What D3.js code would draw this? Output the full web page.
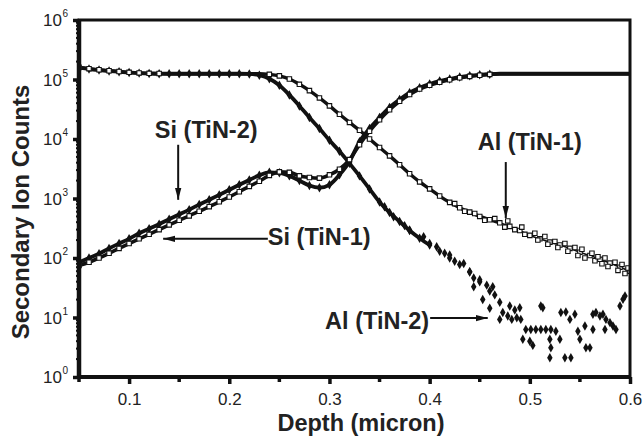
<!DOCTYPE html>
<html><head><meta charset="utf-8">
<script src="https://cdn.jsdelivr.net/npm/d3@7"></script>
<style>body{margin:0;background:#fff}svg{display:block}</style>
</head><body>
<svg id="chart" width="643" height="436"></svg>
<script>
// ---------- data ----------
const depth = [0.05,0.06,0.07,0.08,0.09,0.10,0.11,0.12,0.13,0.14,0.15,0.16,0.17,0.18,0.19,0.20,0.21,0.22,0.23,0.24,0.25,0.26,0.27,0.28,0.29,0.30,0.31,0.32,0.33,0.34,0.35,0.36,0.37,0.38,0.39,0.40,0.41,0.42,0.43,0.44,0.45,0.46,0.47,0.48,0.49,0.50,0.51,0.52,0.53,0.54,0.55,0.56,0.57,0.58,0.59,0.60];

const alTiN1 = [160000,152000,146000,140000,136000,132000,129000,127000,126000,125000,
  125000,125000,125000,125000,125000,125000,125000,125000,
  125000,122000,115000,102000,83000,65000,49000,36000,26000,19000,14000,10000,
  7200,5200,3700,2600,1900,1450,1100,860,700,590,500,440,390,340,290,240,210,185,165,145,125,110,95,82,70,60];

// extra scattered open points in the Al (TiN-1) tail
const alTiN1TailDepth = [0.425,0.435,0.445,0.455,0.465,0.475,0.478,0.485,0.492,0.495,0.505,0.508,0.515,0.518,0.525,0.528,0.535,0.538,0.545,0.548,0.552,0.555,0.562,0.565,0.568,0.572,0.575,0.578,0.585,0.588,0.592,0.595,0.598];
const alTiN1TailValue = [820,610,560,430,460,330,420,300,330,250,260,200,230,170,190,150,175,130,150,110,140,100,120,90,105,80,100,72,85,62,78,55,68];

const alTiN2 = [158000,150000,144000,139000,135000,131000,128000,126000,125000,125000,
  125000,125000,125000,125000,125000,125000,125000,
  124000,118000,103000,80000,55000,36000,23000,15000,9500,6200,3900,2400,1450,
  870,580,410,290,215,165,130,100,78,58,40,28,18];

// scattered filled points of Al (TiN-2) between and after the main points
const alTiN2TailDepth = [0.355,0.364,0.375,0.380,0.394,0.400,0.407,0.415,0.420,0.425,0.434,0.440,0.444,0.444,0.450,0.453,0.457,0.460,0.463,0.465,
  0.470,0.473,0.478,0.480,0.482,0.485,0.487,0.490,0.491,0.493,0.496,0.500,0.501,0.503,0.506,0.511,0.511,0.513,0.516,0.520,0.520,0.521,0.521,0.526,0.530,0.531,0.535,0.536,0.540,0.541,0.545,0.548,0.550,0.555,0.556,0.560,0.563,0.563,0.566,0.570,0.573,0.575,0.576,0.580,0.583,0.586,0.590,0.593,0.595];
const alTiN2TailValue = [728,494,350,296,228,175,155,120,112,88,81,59,46,33,43,20,35,14.3,33,24,
  9.3,12.1,10.6,15.6,9.3,13.4,9.9,14.6,9.3,4.3,6.3,4.0,6.3,3.4,6.3,6.3,15.6,14.6,6.3,4.3,2.1,6.3,3.1,5.9,4.3,12.1,2.1,12.4,9.3,2.1,11.3,5.9,4.3,7.2,3.1,3.1,6.3,11.3,12.1,10.6,11.3,6.3,9.3,8.2,7.2,6.3,15.6,20.2,23];

const siTiN1 = [75,85,100,120,145,175,210,250,300,360,430,510,610,730,880,1060,1300,1600,1950,2450,
  2800,2750,2400,2250,2200,2500,3100,4500,8000,13500,21000,31000,43000,56000,69000,80000,90000,99000,107000,113000,
  118000,122000,125000,125000,125000,125000,125000,125000,125000,125000,125000,125000,125000,125000,125000,125000];

const siTiN2 = [85,100,118,145,175,210,260,310,370,450,540,650,790,950,1150,1400,1700,2050,2450,2750,
  2700,2400,2000,1650,1520,1700,2500,4200,9000,15000,23000,34000,46000,60000,73000,84000,94000,102000,110000,116000,
  120000,123000,125000,125000,125000,125000,125000,125000,125000,125000,125000,125000,125000,125000,125000,125000];

const xTicks = [0.1,0.2,0.3,0.4,0.5,0.6];
const xTickLabels = ["0.1","0.2","0.3","0.4","0.5","0.6"];
const xMinorTicks = [0.05,0.15,0.25,0.35,0.45,0.55];
const yTicks = [1,10,100,1000,10000,100000,1000000];
const yTickExponents = ["0","1","2","3","4","5","6"];
const xTitle = "Depth (micron)";
const yTitle = "Secondary Ion Counts";
const annotations = [
  {text:"Si (TiN-2)", tx:0.177, ty:1.04e4, anchor:"middle", from:[0.149,8000], to:[0.149,950]},
  {text:"Si (TiN-1)", tx:0.2385, ty:165, anchor:"start", from:[0.2385,210], to:[0.134,210]},
  {text:"Al (TiN-1)", tx:0.448, ty:6.5e3, anchor:"start", from:[0.476,4100], to:[0.476,470]},
  {text:"Al (TiN-2)", tx:0.3995, ty:6.4, anchor:"end", from:[0.4005,9.8], to:[0.458,9.8]}
];

// ---------- chart ----------
const svg = d3.select("#chart");
const pL = 79, pR = 630, pT = 20, pB = 377;
const x = d3.scaleLinear().domain([0.05, 0.6]).range([pL, pR]);
const y = d3.scaleLog().domain([1, 1e6]).range([pB, pT]);
const font = "'Liberation Sans', Arial, Helvetica, sans-serif";
const plateau = 125000;

const defs = svg.append("defs");
defs.append("marker").attr("id","arrow").attr("viewBox","0 0 12 8")
  .attr("refX",12).attr("refY",4).attr("markerWidth",12).attr("markerHeight",8)
  .attr("markerUnits","userSpaceOnUse").attr("orient","auto")
  .append("path").attr("d","M0,0.8 L12,4 L0,7.2 Z").attr("fill","#111");
defs.append("clipPath").attr("id","plot").append("rect")
  .attr("x",pL).attr("y",pT).attr("width",pR-pL).attr("height",pB-pT);

const plot = svg.append("g").attr("clip-path","url(#plot)");

function series(vals) { return vals.map((v,i)=>({d:depth[i], v})); }
function pairs(ds, vs) { return ds.map((d,i)=>({d, v:vs[i]})); }
const line = d3.line().x(p=>x(p.d)).y(p=>y(p.v)).curve(d3.curveMonotoneX);

const diamond = d3.symbol().type(d3.symbolDiamond).size(26);
const square = d3.symbol().type(d3.symbolSquare).size(20);

function drawLine(data, w) {
  plot.append("path").datum(data).attr("d",line)
    .attr("fill","none").attr("stroke","#111").attr("stroke-width",w).attr("stroke-linejoin","round");
}
function drawDiamonds(data) {
  plot.append("g").selectAll("path").data(data).join("path")
    .attr("transform",p=>`translate(${x(p.d)},${y(p.v)})`)
    .attr("d",diamond).attr("fill","#111");
}
function drawSquares(data) {
  plot.append("g").selectAll("path").data(data.filter(p=>p.v!==plateau)).join("path")
    .attr("transform",p=>`translate(${x(p.d)},${y(p.v)})`)
    .attr("d",square).attr("fill","#fff").attr("stroke","#111").attr("stroke-width",1.1);
}

const si2 = series(siTiN2), al2 = series(alTiN2);
const si1 = series(siTiN1), al1 = series(alTiN1);

drawLine(si2, 3.8);
drawDiamonds(si2.filter(p=>p.v!==plateau));
drawLine(al2.filter(p=>p.d<=0.405), 3.8);
drawDiamonds(al2);
drawDiamonds(pairs(alTiN2TailDepth, alTiN2TailValue));

drawLine(si1, 3.6);
drawSquares(si1);
drawLine(al1.filter(p=>p.d<=0.475), 3.4);
drawLine(al1.filter(p=>p.d>=0.47), 1.6);
drawSquares(al1);
drawSquares(pairs(alTiN1TailDepth, alTiN1TailValue));

// frame
svg.append("rect").attr("x",pL).attr("y",pT).attr("width",pR-pL).attr("height",pB-pT)
  .attr("fill","none").attr("stroke","#111").attr("stroke-width",3);
svg.append("line").attr("x1",pL).attr("x2",pL).attr("y1",pT-1).attr("y2",pB+2)
  .attr("stroke","#111").attr("stroke-width",4.5);
svg.append("line").attr("x1",pL-2).attr("x2",pR+1).attr("y1",pB).attr("y2",pB)
  .attr("stroke","#111").attr("stroke-width",4);

// x axis
const xAxis = svg.append("g").attr("transform",`translate(0,${pB})`)
  .call(d3.axisBottom(x).tickValues(xTicks).tickFormat((d,i)=>xTickLabels[i]).tickSize(7).tickPadding(9));
xAxis.select(".domain").remove();
xAxis.selectAll(".tick line").attr("stroke","#111").attr("stroke-width",3.5);
xAxis.selectAll(".tick text").attr("font-family",font).attr("font-size",17).attr("fill","#222");
svg.append("g").selectAll("line").data(xMinorTicks).join("line")
  .attr("x1",d=>x(d)).attr("x2",d=>x(d)).attr("y1",pB).attr("y2",pB+5)
  .attr("stroke","#111").attr("stroke-width",3.5);

// y axis
const yAxis = svg.append("g").attr("transform",`translate(${pL},0)`)
  .call(d3.axisLeft(y).tickValues(yTicks).tickFormat("").tickSize(6));
yAxis.select(".domain").remove();
yAxis.selectAll(".tick line").attr("stroke","#111").attr("stroke-width",3.5);
const yMinor = [];
yTicks.slice(0,-1).forEach(t=>{ [2,3,4,5,6,7,8,9].forEach(m=>yMinor.push(t*m)); });
svg.append("g").selectAll("line").data(yMinor).join("line")
  .attr("x1",pL-3).attr("x2",pL).attr("y1",d=>y(d)).attr("y2",d=>y(d))
  .attr("stroke","#111").attr("stroke-width",2);
svg.append("g").selectAll("text").data(yTicks).join("text")
  .attr("font-family",font).attr("fill","#222")
  .attr("x",62).attr("y",d=>y(d)+6).attr("text-anchor","end").attr("font-size",17).text("10");
svg.append("g").selectAll("text").data(yTicks).join("text")
  .attr("font-family",font).attr("fill","#222")
  .attr("x",62.5).attr("y",d=>y(d)-3).attr("font-size",10).text((d,i)=>yTickExponents[i]);

// titles
svg.append("text").attr("x",361).attr("y",431).attr("text-anchor","middle")
  .attr("font-family",font).attr("font-weight","bold").attr("font-size",23.5).attr("fill","#222").text(xTitle);
svg.append("text").attr("transform","translate(29,212) rotate(-90)").attr("text-anchor","middle")
  .attr("font-family",font).attr("font-weight","bold").attr("font-size",24).attr("fill","#222").text(yTitle);

// annotations
const ann = svg.append("g");
annotations.forEach(a=>{
  ann.append("line").attr("x1",x(a.from[0])).attr("y1",y(a.from[1]))
    .attr("x2",x(a.to[0])).attr("y2",y(a.to[1]))
    .attr("stroke","#111").attr("stroke-width",2).attr("marker-end","url(#arrow)");
  ann.append("text").attr("x",x(a.tx)).attr("y",y(a.ty)).attr("text-anchor",a.anchor)
    .attr("font-family",font).attr("font-weight","bold").attr("font-size",23.5).attr("fill","#222").text(a.text);
});
</script>
</body></html>
